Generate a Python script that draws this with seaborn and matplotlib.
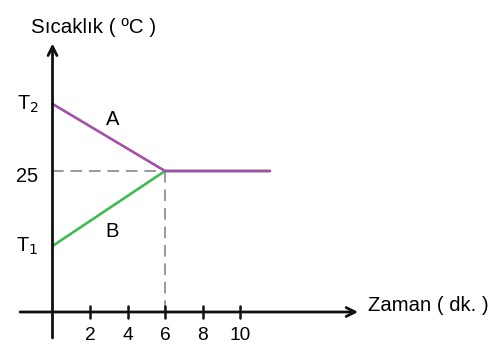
import matplotlib
matplotlib.use("Agg")
import matplotlib.pyplot as plt
import seaborn as sns
import pandas as pd

# Data
time_min = [0, 6, 11.6]
temp_A = [36.9, 25, 25]
temp_B = [11.7, 25, 25]
x_ticks = [2, 4, 6, 8, 10]
x_tick_labels = ["2", "4", "6", "8", "10"]
y_marks = {"T$_2$": 36.9, "25": 25, "T$_1$": 11.7}

sns.set_theme(style="white")
plt.rcParams['font.family'] = ['Liberation Sans', 'DejaVu Sans']
plt.rcParams['text.color'] = 'black'

fig = plt.figure(figsize=(5.04, 3.54), dpi=100)
ax = fig.add_axes([0, 0, 1, 1])
ax.set_xlim(-2.8, 24.08)
ax.set_ylim(-7.447, 55.32)
ax.axis("off")

df = pd.DataFrame({
    "t": time_min * 2,
    "T": temp_B + temp_A,
    "s": ["B"] * 3 + ["A"] * 3,
})
sns.lineplot(data=df, x="t", y="T", hue="s", hue_order=["B", "A"],
             palette={"A": "#a44fa8", "B": "#3fbb55"}, linewidth=1.9,
             legend=False, ax=ax, zorder=3)

# dashed guides
ax.plot([0, 6], [25, 25], ls=(0, (6, 3.5)), color="#9a9a9a", lw=1.4, zorder=2)
ax.plot([6, 6], [0, 25], ls=(0, (6, 3.5)), color="#9a9a9a", lw=1.4, zorder=2)

# axes with arrows
ax.annotate("", xy=(0, 47.6), xytext=(0, -4.6),
            arrowprops=dict(arrowstyle="->", color="#111111", lw=2.0,
                            mutation_scale=16, shrinkA=0, shrinkB=0))
ax.annotate("", xy=(16.3, 0), xytext=(-1.73, 0),
            arrowprops=dict(arrowstyle="->", color="#111111", lw=2.0,
                            mutation_scale=16, shrinkA=0, shrinkB=0))

# x ticks
for xt, lab in zip(x_ticks, x_tick_labels):
    ax.plot([xt, xt], [-1.1, 1.1], color="#111111", lw=1.8)
    ax.text(xt, -4.2, lab, ha="center", va="center", fontsize=13.8)

# y labels
for lab, yv in y_marks.items():
    ax.text(-0.75, yv - 1.0 if lab == "25" else yv, lab, ha="right", va="center", fontsize=14.3)

ax.text(3.2, 34.2, "A", ha="center", va="center", fontsize=14.5)
ax.text(3.2, 14.3, "B", ha="center", va="center", fontsize=14.5)

ax.text(-1.15, 50.5, "Sıcaklık ( ºC )", ha="left", va="center", fontsize=14.8)
ax.text(16.8, 1.2, "Zaman ( dk. )", ha="left", va="center", fontsize=14.6)

fig.savefig("out.png", dpi=100)
